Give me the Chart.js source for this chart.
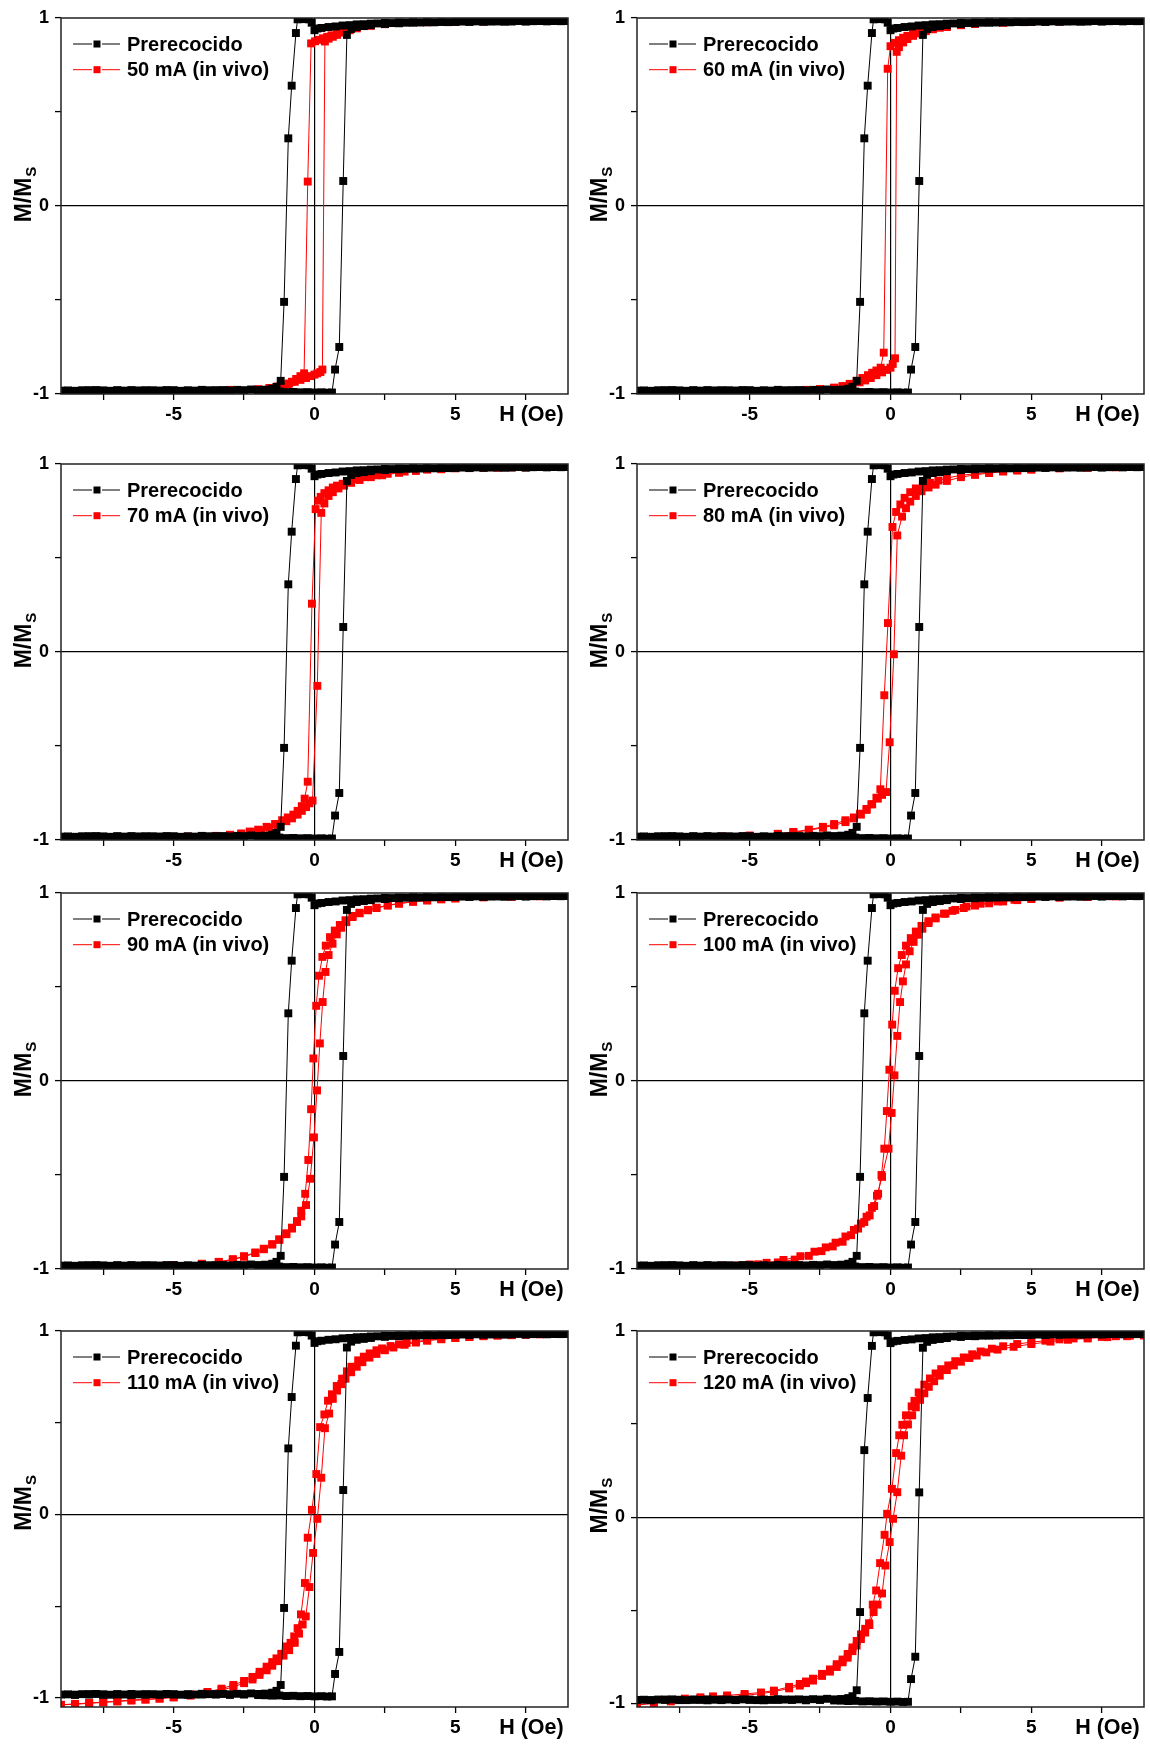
<!DOCTYPE html>
<html>
<head>
<meta charset="utf-8">
<script src="https://cdn.jsdelivr.net/npm/chart.js@4.4.0/dist/chart.umd.min.js"></script>
<style>
  body { margin: 0; background: #fff; width: 1150px; height: 1744px; position: relative; overflow: hidden; }
  canvas { position: absolute; }
</style>
</head>
<body>
<canvas id="c50"></canvas>
<canvas id="c60"></canvas>
<canvas id="c70"></canvas>
<canvas id="c80"></canvas>
<canvas id="c90"></canvas>
<canvas id="c100"></canvas>
<canvas id="c110"></canvas>
<canvas id="c120"></canvas>
<script>
// ticks
const xTicks = [-7.5, -5, -2.5, 0, 2.5, 5, 7.5];
const xTickLabels = ['', '-5', '', '0', '', '5', ''];
const xTitle = 'H (Oe)';
const xTitleAt = 7.7;
const yTicks = [-1, -0.5, 0, 0.5, 1];
const yTickLabels = ['-1', '', '0', '', '1'];

// Prerecocido (same reference loop in every panel): descending branch then ascending branch
const preH = [9, 8.75, 8.5, 8.25, 8, 7.75, 7.5, 7.25, 7, 6.75, 6.5, 6.25, 6, 5.75, 5.5, 5.25, 5, 4.75, 4.5, 4.25, 4, 3.75, 3.5, 3.25, 3, 2.75, 2.5, 2.25, 2, 1.75, 1.5, 1.25, 1, 0.75, 0.5, 0.25, 0.1, 0, -0.1, -0.2, -0.3, -0.4, -0.5, -0.6,
  -0.66, -0.81, -0.93, -1.08, -1.2,
  -1.35, -1.5, -1.75, -2, -2.25, -2.5, -2.75, -3, -3.25, -3.5, -3.75, -4, -4.25, -4.5, -4.75, -5, -5.25, -5.5, -5.75, -6, -6.25, -6.5, -6.75, -7, -7.25, -7.5, -7.75, -8, -8.25, -8.5, -8.75, -9,
  -8.5, -8, -7.5, -7, -6.5, -6, -5.5, -5, -4.5, -4, -3.5, -3, -2.5, -2, -1.75, -1.5, -1.25, -1, -0.75, -0.5, -0.25, 0, 0.25, 0.45, 0.62,
  0.73, 0.88, 1.02, 1.15,
  1.3, 1.5, 1.75, 2, 2.5, 3, 3.5, 4, 4.5, 5, 5.5, 6, 6.5, 7, 7.5, 8, 8.5, 9];
const preM = [0.985, 0.983, 0.985, 0.982, 0.984, 0.983, 0.981, 0.984, 0.982, 0.98, 0.983, 0.981, 0.98, 0.982, 0.979, 0.981, 0.98, 0.978, 0.98, 0.977, 0.979, 0.976, 0.978, 0.975, 0.976, 0.973, 0.974, 0.971, 0.97, 0.967, 0.966, 0.962, 0.96, 0.955, 0.952, 0.947, 0.944, 0.935, 0.975, 0.993, 0.995, 0.994, 0.995, 0.993,
  0.92, 0.64, 0.36, -0.51, -0.93,
  -0.962, -0.972, -0.977, -0.979, -0.976, -0.98, -0.978, -0.981, -0.979, -0.982, -0.98, -0.978, -0.982, -0.98, -0.983, -0.981, -0.979, -0.982, -0.98, -0.983, -0.981, -0.979, -0.982, -0.98, -0.983, -0.981, -0.979, -0.982, -0.98, -0.983, -0.981, -0.982,
  -0.984, -0.98, -0.983, -0.981, -0.984, -0.98, -0.983, -0.981, -0.984, -0.982, -0.98, -0.984, -0.982, -0.985, -0.986, -0.988, -0.987, -0.99, -0.989, -0.991, -0.99, -0.992, -0.991, -0.993, -0.992,
  -0.87, -0.75, 0.133, 0.91,
  0.942, 0.952, 0.957, 0.962, 0.968, 0.972, 0.975, 0.977, 0.979, 0.98, 0.981, 0.982, 0.982, 0.983, 0.983, 0.984, 0.984, 0.985];

// in vivo loops
const h50 = [9, 8, 7, 6, 5, 4, 3, 2.5, 2, 1.75, 1.5, 1.25, 1, 0.8, 0.6, 0.45, 0.3, 0.15, 0.02, -0.12, -0.24, -0.37, -0.5, -0.65, -0.8, -0.95, -1.1, -1.3, -1.6, -2, -3, -4, -5, -6, -7, -8, -9,
  -8, -7, -6, -5, -4, -3, -2, -1.6, -1.3, -1.1, -0.9, -0.7, -0.5, -0.3, -0.15, 0, 0.1, 0.21, 0.28, 0.37, 0.5, 0.65, 0.8, 1, 1.25, 1.5, 2, 2.5, 3, 4, 5, 6, 7, 8, 9];
const m50 = [0.985, 0.985, 0.983, 0.982, 0.98, 0.978, 0.975, 0.97, 0.963, 0.957, 0.95, 0.94, 0.928, 0.918, 0.908, 0.9, 0.892, 0.884, 0.876, 0.865, 0.13, -0.89, -0.905, -0.92, -0.935, -0.948, -0.96, -0.968, -0.975, -0.979, -0.982, -0.983, -0.985, -0.985, -0.986, -0.986, -0.987,
  -0.986, -0.985, -0.985, -0.983, -0.98, -0.978, -0.974, -0.968, -0.96, -0.952, -0.944, -0.935, -0.925, -0.915, -0.905, -0.897, -0.89, -0.883, -0.87, 0.875, 0.89, 0.9, 0.91, 0.922, 0.935, 0.945, 0.958, 0.967, 0.973, 0.978, 0.981, 0.983, 0.984, 0.985, 0.985];

const h60 = [9, 8, 7, 6, 5, 4, 3, 2.5, 2, 1.75, 1.5, 1.25, 1, 0.8, 0.6, 0.45, 0.3, 0.15, 0, -0.1, -0.24, -0.35, -0.5, -0.65, -0.8, -1, -1.2, -1.45, -1.7, -2, -2.5, -3, -4, -5, -6, -7, -8, -9,
  -8, -7, -6, -5, -4, -3, -2.5, -2, -1.7, -1.4, -1.1, -0.9, -0.7, -0.5, -0.3, -0.15, 0, 0.08, 0.16, 0.22, 0.3, 0.45, 0.6, 0.8, 1, 1.25, 1.5, 2, 2.5, 3, 4, 5, 6, 7, 8, 9];
const m60 = [0.985, 0.984, 0.983, 0.982, 0.98, 0.975, 0.968, 0.962, 0.955, 0.948, 0.942, 0.934, 0.925, 0.915, 0.905, 0.895, 0.882, 0.868, 0.85, 0.73, -0.78, -0.86, -0.875, -0.887, -0.9, -0.915, -0.93, -0.946, -0.958, -0.966, -0.975, -0.98, -0.983, -0.984, -0.985, -0.986, -0.986, -0.987,
  -0.986, -0.985, -0.985, -0.983, -0.981, -0.978, -0.974, -0.968, -0.96, -0.95, -0.938, -0.928, -0.915, -0.9, -0.885, -0.872, -0.86, -0.84, -0.81, 0.82, 0.845, 0.87, 0.888, 0.905, 0.918, 0.93, 0.94, 0.952, 0.962, 0.97, 0.976, 0.98, 0.982, 0.984, 0.985, 0.985];

const h70 = [9, 8, 7, 6, 5, 4, 3.2, 2.6, 2.2, 1.8, 1.5, 1.3, 1, 0.8, 0.65, 0.5, 0.35, 0.22, 0.13, 0.04, -0.09, -0.24, -0.35, -0.45, -0.6, -0.75, -0.95, -1.15, -1.4, -1.7, -2, -2.3, -2.6, -3, -3.5, -4.5, -5.5, -6.5, -7.5, -8.5, -9,
  -8, -7, -6, -5, -4, -3.5, -3, -2.6, -2.2, -1.9, -1.6, -1.3, -1, -0.8, -0.6, -0.45, -0.3, -0.18, -0.07, 0.1, 0.24, 0.35, 0.5, 0.65, 0.85, 1.05, 1.3, 1.6, 2, 2.4, 3, 3.6, 4.5, 5.5, 6.5, 7.5, 8.5, 9];
const m70 = [0.985, 0.984, 0.982, 0.98, 0.977, 0.97, 0.96, 0.948, 0.94, 0.93, 0.92, 0.91, 0.895, 0.885, 0.875, 0.86, 0.845, 0.825, 0.805, 0.76, 0.257, -0.69, -0.78, -0.82, -0.845, -0.865, -0.88, -0.895, -0.915, -0.93, -0.945, -0.955, -0.965, -0.972, -0.978, -0.982, -0.985, -0.985, -0.986, -0.986, -0.987,
  -0.986, -0.985, -0.985, -0.984, -0.982, -0.98, -0.975, -0.968, -0.958, -0.948, -0.935, -0.92, -0.9, -0.885, -0.865, -0.845, -0.825, -0.805, -0.79, -0.18, 0.74, 0.79, 0.83, 0.85, 0.87, 0.885, 0.9, 0.915, 0.93, 0.94, 0.953, 0.963, 0.972, 0.978, 0.98, 0.982, 0.984, 0.985];

const h80 = [9, 8, 7, 6, 5, 4.5, 4, 3.5, 3, 2.5, 2, 1.7, 1.4, 1.15, 0.9, 0.7, 0.5, 0.35, 0.2, 0.07, -0.09, -0.22, -0.36, -0.5, -0.68, -0.85, -1.08, -1.3, -1.6, -2, -2.4, -2.9, -3.45, -4, -5, -6, -7, -8, -9,
  -8, -7, -6, -5, -4, -3.45, -2.9, -2.4, -2, -1.6, -1.3, -1.05, -0.85, -0.65, -0.45, -0.3, -0.16, -0.03, 0.12, 0.24, 0.41, 0.55, 0.7, 0.9, 1.1, 1.35, 1.6, 2, 2.5, 3, 3.5, 4, 4.5, 5, 6, 7, 8, 9];
const m80 = [0.984, 0.983, 0.982, 0.978, 0.972, 0.968, 0.962, 0.955, 0.948, 0.94, 0.925, 0.912, 0.9, 0.885, 0.87, 0.85, 0.82, 0.785, 0.745, 0.665, 0.154, -0.23, -0.73, -0.775, -0.81, -0.835, -0.86, -0.88, -0.895, -0.915, -0.93, -0.945, -0.957, -0.967, -0.977, -0.982, -0.985, -0.986, -0.987,
  -0.986, -0.985, -0.982, -0.977, -0.968, -0.96, -0.948, -0.935, -0.922, -0.905, -0.885, -0.865, -0.84, -0.81, -0.78, -0.76, -0.745, -0.48, -0.012, 0.62, 0.72, 0.765, 0.8, 0.83, 0.855, 0.875, 0.89, 0.91, 0.93, 0.942, 0.952, 0.96, 0.965, 0.97, 0.977, 0.98, 0.983, 0.984];

const h90 = [9, 8, 7, 6, 5, 4.5, 4, 3.5, 3, 2.6, 2.2, 1.9, 1.6, 1.35, 1.1, 0.9, 0.72, 0.55, 0.4, 0.28, 0.16, 0.06, -0.04, -0.12, -0.22, -0.33, -0.47, -0.62, -0.8, -1, -1.25, -1.5, -1.8, -2.1, -2.5, -2.9, -3.4, -4, -5, -6, -7, -8, -9,
  -8, -7, -6, -5, -4, -3.4, -2.9, -2.5, -2.1, -1.8, -1.5, -1.25, -1, -0.8, -0.62, -0.47, -0.3, -0.15, -0.02, 0.09, 0.19, 0.29, 0.39, 0.5, 0.64, 0.79, 0.95, 1.13, 1.35, 1.6, 1.9, 2.2, 2.6, 3, 3.5, 4, 4.5, 5, 6, 7, 8, 9];
const m90 = [0.984, 0.983, 0.981, 0.978, 0.972, 0.968, 0.962, 0.955, 0.945, 0.935, 0.922, 0.91, 0.895, 0.878, 0.855, 0.83, 0.8, 0.765, 0.72, 0.66, 0.56, 0.4, 0.12, -0.15, -0.42, -0.6, -0.69, -0.745, -0.785, -0.815, -0.845, -0.87, -0.895, -0.915, -0.935, -0.95, -0.963, -0.973, -0.98, -0.983, -0.985, -0.986, -0.987,
  -0.986, -0.985, -0.983, -0.979, -0.972, -0.962, -0.948, -0.932, -0.912, -0.892, -0.868, -0.842, -0.81, -0.78, -0.75, -0.72, -0.66, -0.52, -0.3, -0.05, 0.2, 0.42, 0.58, 0.67, 0.73, 0.78, 0.815, 0.845, 0.872, 0.892, 0.908, 0.92, 0.933, 0.943, 0.953, 0.96, 0.966, 0.971, 0.977, 0.98, 0.983, 0.984];

const h100 = [9, 8, 7, 6, 5, 4.5, 4, 3.5, 3, 2.6, 2.2, 1.9, 1.6, 1.35, 1.1, 0.9, 0.72, 0.55, 0.4, 0.27, 0.15, 0.06, -0.04, -0.13, -0.22, -0.32, -0.44, -0.58, -0.74, -0.93, -1.15, -1.4, -1.7, -2.05, -2.45, -2.9, -3.4, -4, -4.7, -5.5, -6.5, -7.5, -9,
  -8, -7, -6, -5, -4.4, -3.8, -3.2, -2.7, -2.3, -1.95, -1.6, -1.3, -1.05, -0.85, -0.66, -0.48, -0.3, -0.07, 0.04, 0.14, 0.24, 0.34, 0.44, 0.55, 0.68, 0.82, 0.97, 1.13, 1.35, 1.6, 1.95, 2.3, 2.7, 3.2, 3.8, 4.4, 5, 6, 7, 8, 9];
const m100 = [0.984, 0.982, 0.979, 0.975, 0.968, 0.962, 0.955, 0.945, 0.933, 0.92, 0.905, 0.89, 0.87, 0.85, 0.825, 0.795, 0.76, 0.72, 0.67, 0.6, 0.48, 0.3, 0.06, -0.16, -0.36, -0.5, -0.6, -0.665, -0.715, -0.75, -0.785, -0.82, -0.855, -0.88, -0.905, -0.93, -0.95, -0.965, -0.975, -0.982, -0.985, -0.987, -0.988,
  -0.987, -0.985, -0.982, -0.976, -0.967, -0.952, -0.932, -0.908, -0.885, -0.86, -0.827, -0.792, -0.758, -0.722, -0.675, -0.61, -0.51, -0.36, -0.17, 0.03, 0.24, 0.42, 0.53, 0.62, 0.69, 0.74, 0.778, 0.81, 0.84, 0.865, 0.89, 0.91, 0.928, 0.943, 0.955, 0.964, 0.972, 0.979, 0.982, 0.984, 0.985];

const h110 = [9, 8.5, 8, 7.5, 7, 6.5, 6, 5.5, 5, 4.5, 4, 3.6, 3.27, 3, 2.7, 2.4, 2.2, 1.96, 1.75, 1.55, 1.31, 1.15, 0.98, 0.79, 0.62, 0.48, 0.35, 0.2, 0.065, -0.09, -0.24, -0.34, -0.48, -0.6, -0.72, -0.85, -1, -1.18, -1.35, -1.5, -1.7, -1.95, -2.2, -2.5, -2.88, -3.3, -3.8, -4.4, -5, -5.5, -6, -6.5, -7, -7.5, -8, -8.5, -9,
  -8.5, -8, -7.5, -7, -6.5, -6, -5.5, -5, -4.4, -3.8, -3.3, -2.88, -2.5, -2.2, -1.95, -1.7, -1.5, -1.3, -1.1, -0.9, -0.7, -0.55, -0.42, -0.31, -0.18, -0.05, 0.1, 0.24, 0.37, 0.52, 0.65, 0.8, 0.95, 1.1, 1.3, 1.5, 1.7, 1.95, 2.2, 2.5, 2.8, 3.2, 3.6, 4, 4.5, 5, 5.5, 6, 6.5, 7, 7.5, 8, 8.5, 9];
const m110 = [0.985, 0.984, 0.982, 0.98, 0.977, 0.975, 0.972, 0.968, 0.963, 0.957, 0.95, 0.943, 0.935, 0.927, 0.918, 0.905, 0.895, 0.878, 0.86, 0.84, 0.805, 0.78, 0.74, 0.7, 0.655, 0.62, 0.545, 0.476, 0.22, 0.025, -0.127, -0.374, -0.545, -0.62, -0.665, -0.7, -0.72, -0.76, -0.785, -0.805, -0.83, -0.858, -0.886, -0.908, -0.93, -0.95, -0.968, -0.982, -0.995, -1.002, -1.008, -1.012, -1.018, -1.023, -1.028, -1.033, -1.038,
  -1.035, -1.03, -1.025, -1.02, -1.015, -1.01, -1.005, -0.998, -0.988, -0.975, -0.958, -0.94, -0.92, -0.9, -0.875, -0.85, -0.825, -0.8, -0.77, -0.74, -0.7, -0.65, -0.6, -0.556, -0.396, -0.21, -0.024, 0.2, 0.47, 0.55, 0.63, 0.675, 0.71, 0.74, 0.775, 0.805, 0.83, 0.855, 0.875, 0.895, 0.91, 0.925, 0.937, 0.947, 0.955, 0.962, 0.967, 0.972, 0.976, 0.979, 0.981, 0.983, 0.984, 0.985];

const h120 = [9, 8.5, 8, 7.5, 7, 6.5, 6, 5.5, 5, 4.5, 4, 3.6, 3.2, 2.9, 2.6, 2.3, 2.05, 1.8, 1.6, 1.4, 1.2, 1, 0.85, 0.75, 0.55, 0.42, 0.31, 0.2, 0.05, -0.12, -0.21, -0.37, -0.51, -0.63, -0.76, -0.9, -1.05, -1.2, -1.35, -1.52, -1.7, -1.91, -2.15, -2.43, -2.75, -3, -3.22, -3.6, -4.14, -4.6, -5.18, -5.8, -6.3, -6.75, -7.3, -7.8, -8.4, -9,
  -8.4, -7.8, -7.3, -6.75, -6.3, -5.8, -5.18, -4.6, -4.14, -3.6, -3.22, -3, -2.75, -2.43, -2.15, -1.91, -1.7, -1.52, -1.35, -1.2, -1.05, -0.9, -0.75, -0.6, -0.46, -0.3, -0.18, -0.03, 0.09, 0.24, 0.38, 0.48, 0.62, 0.77, 0.9, 1.05, 1.2, 1.36, 1.55, 1.75, 2, 2.25, 2.5, 2.8, 3.06, 3.4, 3.8, 4.37, 5, 5.68, 6.3, 7, 7.7, 8.4, 9];
const m120 = [0.978, 0.975, 0.972, 0.968, 0.965, 0.96, 0.955, 0.948, 0.94, 0.93, 0.918, 0.905, 0.89, 0.875, 0.858, 0.838, 0.815, 0.795, 0.772, 0.745, 0.712, 0.67, 0.625, 0.595, 0.547, 0.496, 0.44, 0.344, 0.152, 0.018, -0.095, -0.247, -0.394, -0.47, -0.57, -0.6, -0.63, -0.665, -0.7, -0.735, -0.765, -0.79, -0.818, -0.842, -0.868, -0.883, -0.896, -0.912, -0.932, -0.942, -0.95, -0.958, -0.963, -0.968, -0.975, -0.985, -0.997, -1.01,
  -0.998, -0.99, -0.982, -0.975, -0.97, -0.965, -0.958, -0.948, -0.938, -0.92, -0.905, -0.892, -0.878, -0.853, -0.83, -0.805, -0.78, -0.755, -0.72, -0.69, -0.655, -0.62, -0.58, -0.51, -0.47, -0.41, -0.26, -0.134, -0.009, 0.134, 0.33, 0.44, 0.498, 0.547, 0.59, 0.63, 0.665, 0.7, 0.73, 0.76, 0.79, 0.815, 0.835, 0.855, 0.868, 0.885, 0.9, 0.915, 0.93, 0.943, 0.953, 0.96, 0.967, 0.972, 0.976];

const FONT = '"Liberation Sans", Arial, sans-serif';

// legend with line - square - line symbol, drawn inside the plot
const boxLegend = {
  id: 'boxLegend',
  afterDraw(chart) {
    const { ctx, chartArea } = chart;
    chart.data.datasets.forEach((ds, i) => {
      const y = chartArea.top + 26 + i * 25.7;
      const x0 = chartArea.left + 12;
      ctx.save();
      ctx.strokeStyle = ds.borderColor;
      ctx.lineWidth = 1;
      ctx.beginPath();
      ctx.moveTo(x0, y); ctx.lineTo(x0 + 19, y);
      ctx.moveTo(x0 + 29, y); ctx.lineTo(x0 + 47, y);
      ctx.stroke();
      ctx.fillStyle = ds.borderColor;
      ctx.fillRect(x0 + 20.5, y - 3.5, 7, 7);
      ctx.fillStyle = '#000';
      ctx.font = 'bold 20px ' + FONT;
      ctx.textBaseline = 'middle';
      ctx.fillText(ds.label, x0 + 54, y + 1);
      ctx.restore();
    });
  }
};

// frame around the plot, the H (Oe) title in the tick row and the M/Ms axis title
const frame = {
  id: 'frame',
  afterDraw(chart) {
    const { ctx, chartArea: a } = chart;
    ctx.save();
    ctx.strokeStyle = '#222';
    ctx.lineWidth = 1.5;
    ctx.strokeRect(a.left, a.top, a.right - a.left, a.bottom - a.top);

    ctx.fillStyle = '#000';
    ctx.font = 'bold 21.5px ' + FONT;
    ctx.textAlign = 'center';
    ctx.textBaseline = 'middle';
    ctx.fillText(xTitle, chart.scales.x.getPixelForValue(xTitleAt), a.bottom + 21);

    ctx.textAlign = 'left';
    const y0 = chart.scales.y.getPixelForValue(0);
    ctx.translate(a.left - 36, y0 - 11);
    ctx.rotate(-Math.PI / 2);
    ctx.font = 'bold 23px ' + FONT;
    const w1 = ctx.measureText('M/M').width;
    ctx.font = 'bold 15px ' + FONT;
    const w2 = ctx.measureText('S').width;
    const start = -(w1 + w2) / 2;
    ctx.font = 'bold 23px ' + FONT;
    ctx.fillText('M/M', start, 0);
    ctx.font = 'bold 15px ' + FONT;
    ctx.fillText('S', start + w1 + 1, 7);
    ctx.restore();
  }
};

function pts(h, m) {
  return h.map((x, i) => ({ x: x, y: m[i] }));
}

const panels = [
  { id: 'c50', col: 0, row: 0, label: '50 mA (in vivo)', h: h50, m: m50, ymin: -1 },
  { id: 'c60', col: 1, row: 0, label: '60 mA (in vivo)', h: h60, m: m60, ymin: -1 },
  { id: 'c70', col: 0, row: 1, label: '70 mA (in vivo)', h: h70, m: m70, ymin: -1 },
  { id: 'c80', col: 1, row: 1, label: '80 mA (in vivo)', h: h80, m: m80, ymin: -1 },
  { id: 'c90', col: 0, row: 2, label: '90 mA (in vivo)', h: h90, m: m90, ymin: -1 },
  { id: 'c100', col: 1, row: 2, label: '100 mA (in vivo)', h: h100, m: m100, ymin: -1 },
  { id: 'c110', col: 0, row: 3, label: '110 mA (in vivo)', h: h110, m: m110, ymin: -1.05 },
  { id: 'c120', col: 1, row: 3, label: '120 mA (in vivo)', h: h120, m: m120, ymin: -1.02 }
];

const rowPlotTop = [18, 464, 893, 1331];
const colLeft = [0, 575];
const yAxisW = [61, 62];
const padRight = [7, 6];
const plotH = 376;

panels.forEach(p => {
  const cv = document.getElementById(p.id);
  const top = rowPlotTop[p.row] - 18;
  const ch = p.row === 3 ? 1744 - top : 444;
  cv.width = 575; cv.height = ch;
  cv.style.left = colLeft[p.col] + 'px';
  cv.style.top = top + 'px';

  const line = (color) => ({
    borderColor: color, backgroundColor: color,
    pointBackgroundColor: color, pointBorderColor: color,
    pointStyle: 'rect', pointRadius: 5.6, pointBorderWidth: 0,
    borderWidth: 1, showLine: true, tension: 0
  });

  new Chart(cv, {
    type: 'scatter',
    data: {
      datasets: [
        Object.assign({ label: 'Prerecocido', data: pts(preH, preM) }, line('#000000')),
        Object.assign({ label: p.label, data: pts(p.h, p.m) }, line('#ff0000'))
      ]
    },
    options: {
      responsive: false,
      animation: false,
      layout: { padding: { top: 18, right: padRight[p.col], left: 0, bottom: 0 } },
      plugins: { legend: { display: false }, tooltip: { enabled: false } },
      scales: {
        x: {
          type: 'linear', min: -9, max: 9,
          afterBuildTicks: s => { s.ticks = xTicks.map(v => ({ value: v })); },
          afterFit: s => { s.height = ch - 18 - plotH; },
          ticks: {
            autoSkip: false, maxRotation: 0, padding: 3, color: '#000',
            font: { family: FONT, weight: 'bold', size: 19 },
            callback: (v) => xTickLabels[xTicks.indexOf(v)]
          },
          grid: {
            color: c => (c.tick && c.tick.value === 0 ? '#000' : 'rgba(0,0,0,0)'),
            lineWidth: 1.2, tickLength: 6, tickColor: '#000', tickWidth: 1.3
          },
          border: { display: false }
        },
        y: {
          type: 'linear', min: p.ymin, max: 1,
          afterBuildTicks: s => { s.ticks = yTicks.map(v => ({ value: v })); },
          afterFit: s => { s.width = yAxisW[p.col]; },
          ticks: {
            autoSkip: false, padding: 6, color: '#000',
            font: { family: FONT, weight: 'bold', size: 18 },
            callback: (v) => yTickLabels[yTicks.indexOf(v)]
          },
          grid: {
            color: c => (c.tick && c.tick.value === 0 ? '#000' : 'rgba(0,0,0,0)'),
            lineWidth: 1.2, tickLength: 6, tickColor: '#000', tickWidth: 1.3
          },
          border: { display: false }
        }
      }
    },
    plugins: [frame, boxLegend]
  });
});
</script>
</body>
</html>
